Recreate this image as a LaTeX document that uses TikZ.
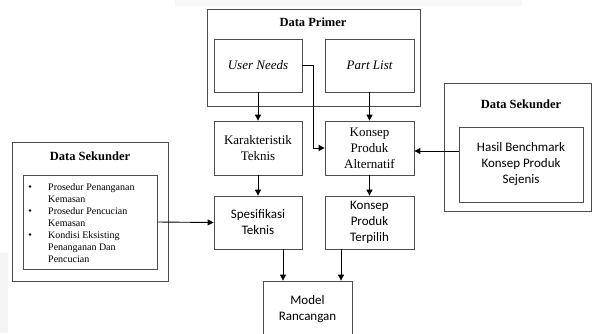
\documentclass[tikz,border=0pt]{standalone}
\usepackage{fontspec}
\setmainfont{Liberation Serif}
\newfontfamily\calibri{Carlito}
\usetikzlibrary{arrows.meta}
\begin{document}
\begin{tikzpicture}[x=1pt,y=-1pt,
  frame/.style={draw=black!70,line width=0.8pt},
  outerbox/.style={frame},
  box/.style={frame,align=center,inner sep=0pt},
  serif13/.style={font=\fontsize{13}{16}\selectfont},
  sans13/.style={font=\calibri\fontsize{13}{16}\selectfont},
  title/.style={font=\bfseries\fontsize{12.5}{15}\selectfont},
  arr/.style={draw=black,line width=0.9pt,-{Triangle[length=6pt,width=6pt]}}]
\useasboundingbox (0,0) rectangle (592,333);
% faint scan artifacts
\fill[black!3] (175,0) rectangle (522,6);
\fill[black!4] (0,253) rectangle (8,333);

% Data Primer group
\draw[outerbox] (207,9) rectangle (420,106);
\node[title] (tprimer) at (313,22) {Data Primer};
\node[box,serif13,minimum width=88pt,minimum height=53pt] (un) at (258,65.5) {\itshape User Needs};
\node[box,serif13,minimum width=89pt,minimum height=53pt] (pl) at (369.5,65.5) {\itshape Part List};

% middle column
\node[box,serif13,minimum width=88pt,minimum height=54pt] (kt) at (258,148) {Karakteristik\\Teknis};
\node[box,serif13,minimum width=89pt,minimum height=54pt] (kpa) at (369.5,148) {Konsep\\Produk\\Alternatif};
\node[box,sans13,minimum width=88pt,minimum height=53pt] (st) at (258,222.5) {Spesifikasi\\Teknis};
\node[box,sans13,minimum width=89pt,minimum height=53pt] (kpt) at (369.5,222.5) {Konsep\\Produk\\Terpilih};
\node[box,sans13,minimum width=89pt,minimum height=56pt] (mr) at (307.5,309) {Model\\Rancangan};

% right Data Sekunder
\draw[outerbox] (444,83) rectangle (591.4,211);
\node[title] (tsek2) at (521,104) {Data Sekunder};
\node[box,sans13,minimum width=124pt,minimum height=75pt] (hb) at (521,164.5) {Hasil Benchmark\\Konsep Produk\\Sejenis};

% left Data Sekunder
\draw[outerbox] (12,142) rectangle (168,281);
\node[title] (tsek1) at (90,156) {Data Sekunder};
\node[frame,minimum width=134pt,minimum height=94pt,inner sep=0pt] (ls) at (90,222) {};
\begin{scope}[font=\fontsize{10}{12}\selectfont]
\node[anchor=base west,inner sep=0pt] (l1) at (48,190) {Prosedur Penanganan};
\node[anchor=base west,inner sep=0pt] (l2) at (48,202) {Kemasan};
\node[anchor=base west,inner sep=0pt] (l3) at (48,214) {Prosedur Pencucian};
\node[anchor=base west,inner sep=0pt] (l4) at (48,226) {Kemasan};
\node[anchor=base west,inner sep=0pt] (l5) at (48,238) {Kondisi Eksisting};
\node[anchor=base west,inner sep=0pt] (l6) at (48,250) {Penanganan Dan};
\node[anchor=base west,inner sep=0pt] (l7) at (48,262) {Pencucian};
\fill (30,186.5) circle (1.3pt);
\fill (30,210.5) circle (1.3pt);
\fill (30,234.5) circle (1.3pt);
\end{scope}

% connectors
\draw[arr] (un.south) -- (kt.north);
\draw[arr] (pl.south) -- (kpa.north);
\draw[arr] (un.east) -- (313,65.5) |- (kpa.west);
\draw[arr] (hb.west |- kpa.east) ++(0,3) coordinate (hbw) -- (kpa.east |- hbw);
\draw[arr] (kt.south) -- (st.north);
\draw[arr] (kpa.south) -- (kpt.north);
\draw[arr] (ls.east) -- (st.west);
\draw[arr] (st.south -| 283,0) -- (mr.north -| 283,0);
\draw[arr] (kpt.south -| 341,0) -- (mr.north -| 341,0);
\end{tikzpicture}
\end{document}
